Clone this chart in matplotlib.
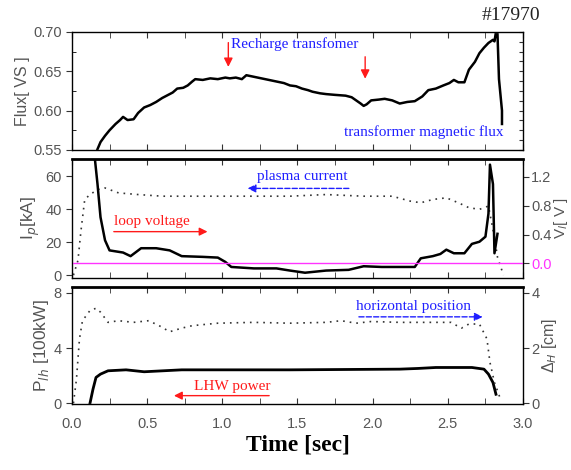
import matplotlib
matplotlib.use("Agg")
import matplotlib.pyplot as plt
from matplotlib.ticker import MultipleLocator

# shot #17970 traces
t_flux = [0.17, 0.19, 0.22, 0.25, 0.29, 0.32, 0.34, 0.37, 0.41, 0.44, 0.48, 0.52, 0.56, 0.60,
          0.63, 0.67, 0.70, 0.74, 0.77, 0.80, 0.82, 0.87, 0.92, 0.97, 1.02, 1.05, 1.09, 1.13,
          1.16, 1.21, 1.26, 1.31, 1.36, 1.41, 1.45, 1.49, 1.53, 1.57, 1.60, 1.65, 1.69, 1.75,
          1.82, 1.86, 1.89, 1.92, 1.94, 1.96, 1.99, 2.04, 2.08, 2.13, 2.18, 2.23, 2.28, 2.33,
          2.37, 2.42, 2.47, 2.51, 2.54, 2.57, 2.61, 2.64, 2.68, 2.71, 2.74, 2.77, 2.80, 2.81,
          2.82, 2.83, 2.84, 2.86, 2.86]
flux = [0.551, 0.560, 0.568, 0.575, 0.583, 0.588, 0.592, 0.588, 0.589, 0.597, 0.604, 0.607,
        0.611, 0.616, 0.619, 0.623, 0.628, 0.629, 0.632, 0.637, 0.640, 0.639, 0.641, 0.640,
        0.642, 0.641, 0.642, 0.640, 0.645, 0.643, 0.641, 0.639, 0.637, 0.635, 0.632, 0.631,
        0.628, 0.626, 0.624, 0.622, 0.621, 0.620, 0.619, 0.617, 0.613, 0.609, 0.606, 0.608,
        0.613, 0.614, 0.615, 0.613, 0.609, 0.611, 0.612, 0.618, 0.626, 0.628, 0.632, 0.635,
        0.639, 0.636, 0.636, 0.652, 0.662, 0.673, 0.680, 0.686, 0.690, 0.688, 0.700, 0.698,
        0.640, 0.600, 0.583]

t_ip = [0.01, 0.04, 0.06, 0.085, 0.12, 0.17, 0.22, 0.31, 0.44, 0.60, 0.73, 0.95, 1.21, 1.45,
        1.69, 1.94, 2.13, 2.25, 2.32, 2.40, 2.49, 2.57, 2.64, 2.71, 2.77, 2.81, 2.83, 2.87]
ip = [0, 9, 27, 46, 49, 52, 53, 50, 49, 48, 48, 48, 48, 48, 49, 48, 48, 45, 44, 46, 47, 44,
      41, 40, 42, 23, 11, 0]

t_vl = [0.15, 0.17, 0.19, 0.22, 0.25, 0.31, 0.34, 0.39, 0.46, 0.56, 0.65, 0.73, 0.87, 0.97,
        1.02, 1.06, 1.21, 1.36, 1.45, 1.55, 1.69, 1.84, 1.94, 2.06, 2.18, 2.28, 2.32, 2.40,
        2.45, 2.49, 2.54, 2.61, 2.66, 2.71, 2.75, 2.77, 2.78, 2.80, 2.81, 2.83]
vl = [1.50, 1.10, 0.64, 0.32, 0.18, 0.16, 0.15, 0.10, 0.21, 0.21, 0.18, 0.10, 0.09, 0.08,
      0.02, -0.05, -0.07, -0.07, -0.10, -0.13, -0.10, -0.09, -0.04, -0.05, -0.05, -0.05,
      0.07, 0.10, 0.13, 0.19, 0.14, 0.14, 0.27, 0.30, 0.37, 0.69, 1.37, 1.10, 0.14, 0.41]

t_dh = [0.01, 0.03, 0.05, 0.07, 0.12, 0.16, 0.19, 0.24, 0.31, 0.41, 0.51, 0.58, 0.65, 0.73,
        0.80, 0.97, 1.21, 1.45, 1.69, 1.79, 1.89, 1.99, 2.18, 2.42, 2.52, 2.59, 2.64, 2.71,
        2.76, 2.78, 2.81, 2.85]
dh = [0, 0.87, 2.33, 2.99, 3.36, 3.44, 3.30, 2.93, 2.99, 2.93, 2.99, 2.81, 2.59, 2.72, 2.81,
      2.90, 2.93, 2.90, 2.93, 2.99, 2.90, 2.96, 2.93, 2.93, 2.93, 2.72, 2.87, 2.87, 2.33, 1.48,
      0.75, 0.15]

t_lh = [0.12, 0.14, 0.16, 0.19, 0.24, 0.36, 0.48, 0.73, 1.45, 2.18, 2.30, 2.42, 2.66, 2.74,
        2.77, 2.80, 2.82]
p_lh = [0, 1.02, 1.87, 2.11, 2.35, 2.42, 2.28, 2.42, 2.42, 2.47, 2.52, 2.59, 2.59, 2.47,
        2.11, 1.50, 0.65]

grey = "#555555"
blue = "#1f1fff"
red = "#ff1a1a"
serif = "Liberation Serif"
note_size = 11
plt.rcParams["font.family"] = "Liberation Sans"

fig = plt.figure(figsize=(5.71, 4.70), dpi=100)
left, width = 0.126, 0.790
ax1 = fig.add_axes([left, 0.681, width, 0.251])
ax2 = fig.add_axes([left, 0.409, width, 0.253])
ax3 = fig.add_axes([left, 0.140, width, 0.249])


def style_time_axis(ax, labels=False):
    ax.set_xlim(0, 3.0)
    ax.xaxis.set_major_locator(MultipleLocator(0.5))
    ax.xaxis.set_minor_locator(MultipleLocator(0.25))
    ax.tick_params(axis="x", which="both", direction="in", top=True, length=4, pad=9,
                   labelbottom=labels, labelsize=10.5, labelcolor=grey, color="#333333")
    ax.tick_params(axis="y", direction="out", length=4, labelsize=10.5, labelcolor=grey,
                   color="#333333")
    for s in ax.spines.values():
        s.set_color("#444444")
        s.set_linewidth(1.0)


# flux panel
ax1.plot(t_flux, flux, color="black", lw=1.8)
ax1.set_ylim(0.55, 0.70)
ax1.set_yticks([0.55, 0.60, 0.65, 0.70])
ax1.set_yticklabels(["0.55", "0.60", "0.65", "0.70"])
style_time_axis(ax1)
ax1.yaxis.set_minor_locator(MultipleLocator(0.025))
ax1.tick_params(axis="y", which="minor", direction="in", length=3)
ax1r = ax1.twinx()
ax1r.set_ylim(0.55, 0.70)
ax1r.yaxis.set_major_locator(MultipleLocator(0.0125))
ax1r.tick_params(axis="y", direction="in", length=3, labelright=False, color="#333333")
ax1.set_ylabel("Flux[ VS ]", color=grey, fontsize=11.5, labelpad=2)
fig.text(0.947, 0.968, "#17970", fontsize=14, family=serif, color="#222222",
         ha="right", va="center")
ax1.text(1.06, 0.684, "Recharge transfomer", color=blue, family=serif, fontsize=note_size,
         ha="left", va="center")
ax1.annotate("", xy=(1.04, 0.652), xytext=(1.04, 0.690),
             arrowprops=dict(arrowstyle="-|>", color=red, lw=1.0, mutation_scale=13))
ax1.annotate("", xy=(1.95, 0.637), xytext=(1.95, 0.672),
             arrowprops=dict(arrowstyle="-|>", color=red, lw=1.0, mutation_scale=13))
ax1.text(1.81, 0.573, "transformer magnetic flux", color=blue, family=serif,
         fontsize=note_size, ha="left", va="center")

# plasma current / loop voltage panel
ax2.plot(t_ip, ip, color="#333333", lw=1.2, ls=(0, (1, 3)))
ax2.set_ylim(-1.6, 70.7)
ax2.set_yticks([0, 20, 40, 60])
style_time_axis(ax2)
ax2.spines["top"].set_linewidth(1.8)
ax2.set_ylabel("I$_p$[kA]", color=grey, fontsize=12.5, labelpad=2)
ax2r = ax2.twinx()
ax2r.plot(t_vl, vl, color="black", lw=1.8)
ax2r.axhline(0.0, color="#ff33ff", lw=1.0)
ax2r.set_ylim(-0.2, 1.45)
ax2r.set_yticks([0.0, 0.4, 0.8, 1.2])
ax2r.set_yticklabels(["0.0", "0.4", "0.8", "1.2"])
ax2r.tick_params(axis="y", direction="out", length=4, labelsize=10.5, labelcolor=grey,
                 color="#333333", pad=2)
ax2r.get_yticklabels()[0].set_color("#ff33ff")
ax2r.set_ylabel("V$_l$[ V ]", color=grey, fontsize=11, labelpad=0)
ax2r.spines["top"].set_linewidth(1.8)
ax2r.text(1.23, 1.20, "plasma current", color=blue, family=serif, fontsize=note_size,
          ha="left", va="center")
ax2r.annotate("", xy=(1.15, 1.04), xytext=(1.86, 1.04),
              arrowprops=dict(arrowstyle="-|>", color=blue, lw=1.0, ls="--",
                              mutation_scale=12))
ax2r.text(0.28, 0.58, "loop voltage", color=red, family=serif, fontsize=note_size,
          ha="left", va="center")
ax2r.annotate("", xy=(0.92, 0.44), xytext=(0.26, 0.44),
              arrowprops=dict(arrowstyle="-|>", color=red, lw=1.0, mutation_scale=12))

# LHW power / horizontal position panel
ax3.plot(t_lh, p_lh, color="black", lw=2.0)
ax3.set_ylim(-0.07, 8.41)
ax3.set_yticks([0, 4, 8])
style_time_axis(ax3, labels=True)
ax3.spines["top"].set_linewidth(1.8)
ax3.set_ylabel("P$_{lh}$ [100kW]", color=grey, fontsize=12.5, labelpad=2)
ax3.set_xlabel("Time [sec]", fontsize=17, fontweight="bold", family=serif, labelpad=3)
ax3r = ax3.twinx()
ax3r.plot(t_dh, dh, color="#333333", lw=1.2, ls=(0, (1, 3)))
ax3r.set_ylim(-0.035, 4.205)
ax3r.set_yticks([0, 2, 4])
ax3r.tick_params(axis="y", direction="out", length=4, labelsize=10.5, labelcolor=grey,
                 color="#333333", pad=2)
ax3r.set_ylabel("Δ$_H$ [cm]", color=grey, fontsize=11.5, labelpad=0)
ax3r.spines["top"].set_linewidth(1.8)
ax3r.text(1.89, 3.52, "horizontal position", color=blue, family=serif, fontsize=note_size,
          ha="left", va="center")
ax3r.annotate("", xy=(2.75, 3.13), xytext=(1.89, 3.13),
              arrowprops=dict(arrowstyle="-|>", color=blue, lw=1.0, ls="--",
                              mutation_scale=12))
ax3.text(0.81, 1.2, "LHW power", color=red, family=serif, fontsize=note_size,
         ha="left", va="center")
ax3.annotate("", xy=(0.66, 0.55), xytext=(1.33, 0.55),
             arrowprops=dict(arrowstyle="-|>", color=red, lw=1.0, mutation_scale=12))

fig.savefig("out.png", dpi=100)
